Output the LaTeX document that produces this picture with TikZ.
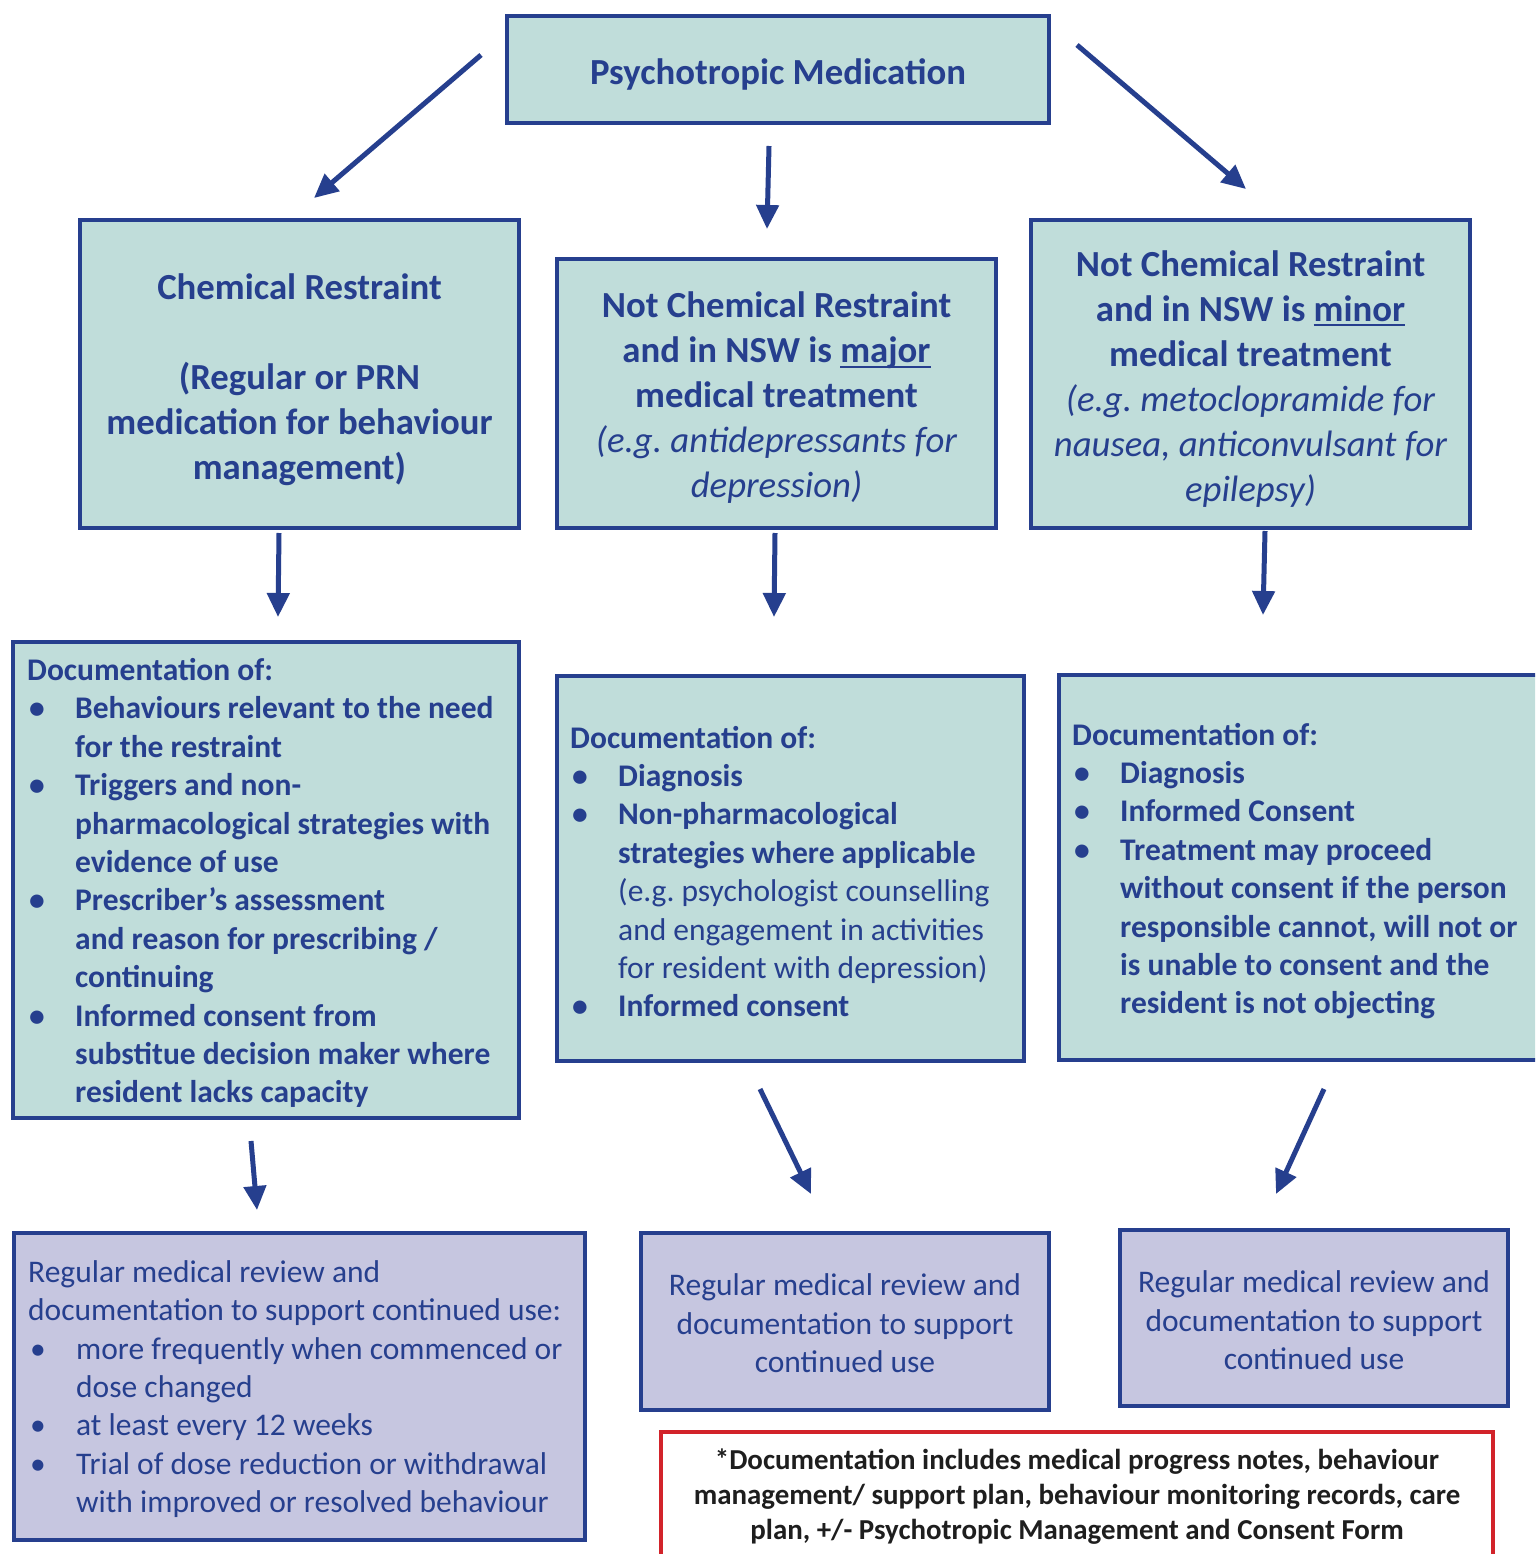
\documentclass[tikz,border=0pt]{standalone}
\usepackage{fontspec}
\setmainfont{Carlito}
\usetikzlibrary{arrows.meta}
\definecolor{dblue}{RGB}{38,63,142}
\definecolor{myteal}{RGB}{192,221,218}
\definecolor{mylav}{RGB}{198,198,224}
\definecolor{myred}{RGB}{210,35,42}
\definecolor{mytxt}{RGB}{30,30,30}
\frenchspacing
\newcommand\myul[1]{\setbox0\hbox{#1}\rlap{\rule[-5pt]{\wd0}{2pt}}\box0}
\newcommand\bul{\makebox[48pt][l]{\hspace{2pt}•}}
\newcommand\ind{\hspace*{48pt}}
\tikzset{
  tealbox/.style={draw=dblue, fill=myteal, line width=4pt, inner sep=0pt},
  lavbox/.style={draw=dblue, fill=mylav, line width=4pt, inner sep=0pt},
  headfont/.style={font=\fontsize{36.75}{45}\selectfont\bfseries, text=dblue, inner sep=0pt, align=center},
  bodyfont/.style={font=\fontsize{31.5}{38.4}\selectfont, text=dblue, inner sep=0pt},
  boldbody/.style={font=\fontsize{31.5}{38.4}\selectfont\bfseries, text=dblue, inner sep=0pt},
  arr/.style={draw=dblue, line width=5pt, -{Triangle[length=24pt,width=22pt]}}
}
\begin{document}
\begin{tikzpicture}[x=1pt,y=-1pt]
\useasboundingbox (0,0) rectangle (1535,1554);
\clip (0,0) rectangle (1535,1554);
\fill[white] (0,0) rectangle (1535,1554);

% boxes
\node[tealbox, minimum width=542, minimum height=107] (top) at (778,69.5) {};
\node[tealbox, minimum width=439, minimum height=308] (cr) at (299.5,374) {};
\node[tealbox, minimum width=439, minimum height=269] (maj) at (776.5,393.5) {};
\node[tealbox, minimum width=439, minimum height=308] (min) at (1250.5,374) {};
\node[tealbox, minimum width=506, minimum height=476] (docl) at (266,880) {};
\node[tealbox, minimum width=467, minimum height=385] (docm) at (790.5,868.5) {};
\node[tealbox, minimum width=486, minimum height=385] (docr) at (1302,867.5) {};
\node[lavbox, minimum width=571, minimum height=307] (revl) at (299.5,1386.5) {};
\node[lavbox, minimum width=408, minimum height=177] (revm) at (845,1321.5) {};
\node[lavbox, minimum width=388, minimum height=176] (revr) at (1314,1318) {};
\node[draw=myred, fill=white, line width=4pt, inner sep=0pt, minimum width=832, minimum height=126] (note) at (1077,1495) {};

% texts
\node[headfont] (topt) at (778,74) {Psychotropic Medication};

\node[headfont] (crt) at (299.5,379.5)
 {Chemical Restraint\\ \mbox{}\\ (Regular or PRN\\ medication for behaviour\\ management)};

\node[headfont] (majt) at (776.5,398)
 {Not Chemical Restraint\\ and in NSW is \myul{major}\\ medical treatment\\ {\mdseries\itshape (e.g. antidepressants for}\\ {\mdseries\itshape depression)}};

\node[headfont] (mint) at (1250.5,379)
 {Not Chemical Restraint\\ and in NSW is \myul{minor}\\ medical treatment\\ {\mdseries\itshape (e.g. metoclopramide for}\\ {\mdseries\itshape nausea, anticonvulsant for}\\ {\mdseries\itshape epilepsy)}};

\node[boldbody, align=left, anchor=west] (doclt) at (27,883)
 {Documentation of:\\
 \bul Behaviours relevant to the need\\
 \ind for the restraint\\
 \bul Triggers and non-\\
 \ind pharmacological strategies with\\
 \ind evidence of use\\
 \bul Prescriber’s assessment\\
 \ind and reason for prescribing /\\
 \ind continuing\\
 \bul Informed consent from\\
 \ind substitue decision maker where\\
 \ind resident lacks capacity};

\node[boldbody, align=left, anchor=west] (docmt) at (570,871.5)
 {Documentation of:\\
 \bul Diagnosis\\
 \bul Non-pharmacological\\
 \ind strategies where applicable\\
 \ind {\mdseries (e.g. psychologist counselling}\\
 \ind {\mdseries and engagement in activities}\\
 \ind {\mdseries for resident with depression)}\\
 \bul Informed consent};

\node[boldbody, align=left, anchor=west] (docrt) at (1072,871)
 {Documentation of:\\
 \bul Diagnosis\\
 \bul Informed Consent\\
 \bul Treatment may proceed\\
 \ind without consent if the person\\
 \ind responsible cannot, will not or\\
 \ind is unable to consent and the\\
 \ind resident is not objecting};

\node[bodyfont, align=left, anchor=west] (revlt) at (28,1389)
 {Regular medical review and\\
 documentation to support continued use:\\
 \bul more frequently when commenced or\\
 \ind dose changed\\
 \bul at least every 12 weeks\\
 \bul Trial of dose reduction or withdrawal\\
 \ind with improved or resolved behaviour};

\node[bodyfont, align=center] (revmt) at (845,1323.5)
 {Regular medical review and\\ documentation to support\\ continued use};

\node[bodyfont, align=center] (revrt) at (1314,1320.5)
 {Regular medical review and\\ documentation to support\\ continued use};

\node[text=mytxt, inner sep=0pt, align=center, font=\fontsize{28.9}{35}\selectfont\bfseries] (notet) at (1077,1496.5)
 {*Documentation includes medical progress notes, behaviour\\ management/ support plan, behaviour monitoring records, care\\ plan, +/- Psychotropic Management and Consent Form};

% arrows
\coordinate (a1s) at (481,55);   \coordinate (a1e) at (314,198);
\coordinate (a2s) at (769,146);  \coordinate (a2e) at (767,229);
\coordinate (a3s) at (1077,45);  \coordinate (a3e) at (1246,189);
\coordinate (a4s) at (279,533);  \coordinate (a4e) at (278,617);
\coordinate (a5s) at (775,533);  \coordinate (a5e) at (774,617);
\coordinate (a6s) at (1265,531); \coordinate (a6e) at (1263,615);
\coordinate (a7s) at (251,1141); \coordinate (a7e) at (257,1210);
\coordinate (a8s) at (760,1089); \coordinate (a8e) at (811,1194);
\coordinate (a9s) at (1324,1089); \coordinate (a9e) at (1276,1194);
\foreach \i in {1,...,9} { \draw[arr] (a\i s) -- (a\i e); }
\end{tikzpicture}
\end{document}
